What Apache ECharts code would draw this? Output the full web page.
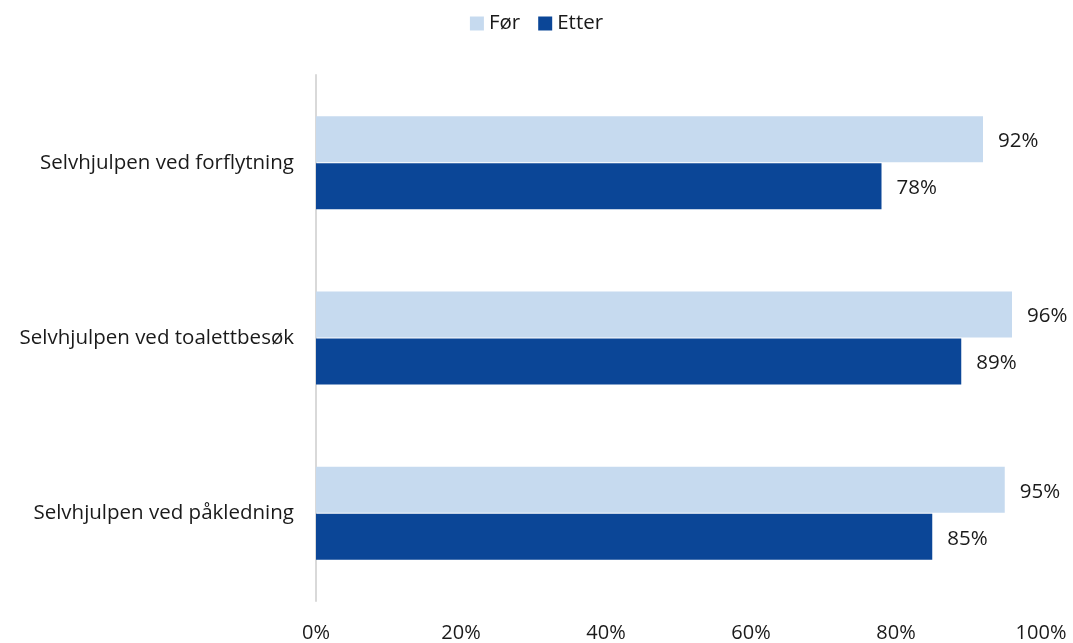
<!DOCTYPE html>
<html><head><meta charset="utf-8">
<script src="https://cdn.jsdelivr.net/npm/echarts@6/dist/echarts.min.js"></script>
<style>html,body{margin:0;padding:0;background:#fff}#c{width:1073px;height:643px}</style>
</head><body><div id="c"></div>
<script>
const categories = ["Selvhjulpen ved forflytning", "Selvhjulpen ved toalettbesøk", "Selvhjulpen ved påkledning"];
const forValues = [92, 96, 95];
const etterValues = [78, 89, 85];
const seriesNames = ["Før", "Etter"];
const xTicks = [0, 20, 40, 60, 80, 100];

const font = "'Open Sans', 'Liberation Sans', sans-serif";
const chart = echarts.init(document.getElementById('c'));
const lbl = {show: true, position: 'right', distance: 15, offset: [0, 2], formatter: p => p.value + '%', color: '#1a1a1a', fontSize: 20.5, fontFamily: font};
chart.setOption({
  animation: false,
  legend: {
    top: 8, left: 'center', itemWidth: 14, itemHeight: 14, itemGap: 18,
    icon: 'rect',
    textStyle: {fontSize: 20.5, fontFamily: font, color: '#1a1a1a'},
    data: seriesNames
  },
  grid: {left: 316, right: 32, top: 75, bottom: 39, containLabel: false},
  xAxis: {
    type: 'value', min: xTicks[0], max: xTicks[xTicks.length - 1], interval: 20,
    axisLine: {show: false}, axisTick: {show: false}, splitLine: {show: false},
    axisLabel: {formatter: v => v + '%', fontSize: 20, fontFamily: font, color: '#1a1a1a', margin: 22}
  },
  yAxis: {
    type: 'category', data: categories, inverse: true,
    axisLine: {show: true, lineStyle: {color: '#d9d9d9', width: 2}},
    axisTick: {show: false},
    axisLabel: {fontSize: 20.5, fontFamily: font, color: '#1a1a1a', margin: 22}
  },
  series: [
    {name: seriesNames[0], type: 'bar', data: forValues, barWidth: 46, barGap: '2%',
     itemStyle: {color: '#C6DAEF'}, label: lbl},
    {name: seriesNames[1], type: 'bar', data: etterValues, barWidth: 46,
     itemStyle: {color: '#0B4697'}, label: lbl}
  ]
});
</script></body></html>
